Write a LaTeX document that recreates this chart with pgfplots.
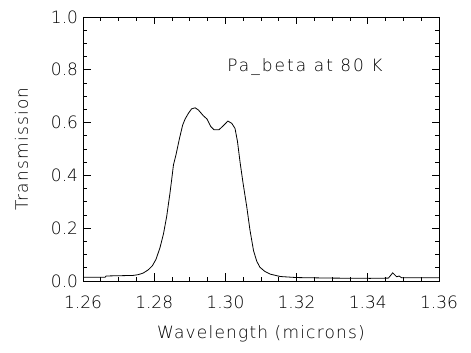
\documentclass[border=0pt]{standalone}
\usepackage{fontspec}
\setmainfont{DejaVu Sans ExtraLight}
\usepackage{pgfplots}
\pgfplotsset{compat=1.18}
\begin{document}
\begin{tikzpicture}
\useasboundingbox (-83bp,-72bp) rectangle (388bp,281bp);
\begin{axis}[
  at={(0,0)}, anchor=south west,
  scale only axis, width=356bp, height=264bp,
  xmin=1.26, xmax=1.36, ymin=0, ymax=1.0,
  xtick={1.26,1.28,1.30,1.32,1.34,1.36},
  ytick={0,0.2,0.4,0.6,0.8,1.0},
  minor x tick num=3, minor y tick num=3,
  major tick length=7.5bp, minor tick length=4bp,
  tick align=inside,
  axis line style={line width=0.8bp},
  every tick/.style={line width=0.8bp, black},
  /pgf/number format/assume math mode=true,
  xticklabel style={/pgf/number format/.cd, fixed, fixed zerofill, precision=2, /tikz/.cd, yshift=-11bp},
  yticklabel style={/pgf/number format/.cd, fixed, fixed zerofill, precision=1, /tikz/.cd, xshift=-1.5bp},
  tick label style={font=\fontsize{17bp}{20bp}\selectfont},
  label style={font=\fontsize{17bp}{20bp}\selectfont\addfontfeatures{LetterSpace=7}},
  xlabel={Wavelength (microns)},
  ylabel={Transmission},
  xlabel style={at={([yshift=-57bp]axis description cs:0.5,0)}, anchor=base},
  ylabel style={at={([xshift=-55bp]axis description cs:0,0.5)}, anchor=base, rotate=0},
  clip=true,
]
\addplot[black, line width=0.8bp] coordinates {
(1.2600,0.014) (1.2662,0.014) (1.2665,0.019) (1.2700,0.020) (1.2740,0.021)
(1.2755,0.024) (1.2769,0.030) (1.2783,0.042) (1.2795,0.058) (1.2805,0.082)
(1.2816,0.125) (1.2826,0.178) (1.2835,0.244) (1.2844,0.330) (1.2849,0.383)
(1.2854,0.439) (1.2861,0.477) (1.2871,0.540) (1.2880,0.591) (1.2887,0.614)
(1.2896,0.635) (1.2905,0.652) (1.2915,0.656) (1.2924,0.648) (1.2938,0.626)
(1.2948,0.614) (1.2959,0.585) (1.2968,0.573) (1.2982,0.573) (1.2994,0.588)
(1.3007,0.606) (1.3018,0.597) (1.3027,0.578) (1.3034,0.528) (1.3041,0.452)
(1.3049,0.376) (1.3060,0.281) (1.3069,0.193) (1.3079,0.115) (1.3088,0.075)
(1.3097,0.052) (1.3111,0.036) (1.3126,0.026) (1.3154,0.017) (1.3200,0.013)
(1.3300,0.011) (1.3407,0.010) (1.3458,0.011) (1.3470,0.031) (1.3481,0.016)
(1.3488,0.019) (1.3495,0.012) (1.3600,0.012)
};
\node[anchor=base west, inner sep=0pt, font=\fontsize{17bp}{20bp}\selectfont\addfontfeatures{LetterSpace=12}] at (axis cs:1.3005,0.795) {Pa\_beta at 80 K};
\end{axis}
\end{tikzpicture}
\end{document}
